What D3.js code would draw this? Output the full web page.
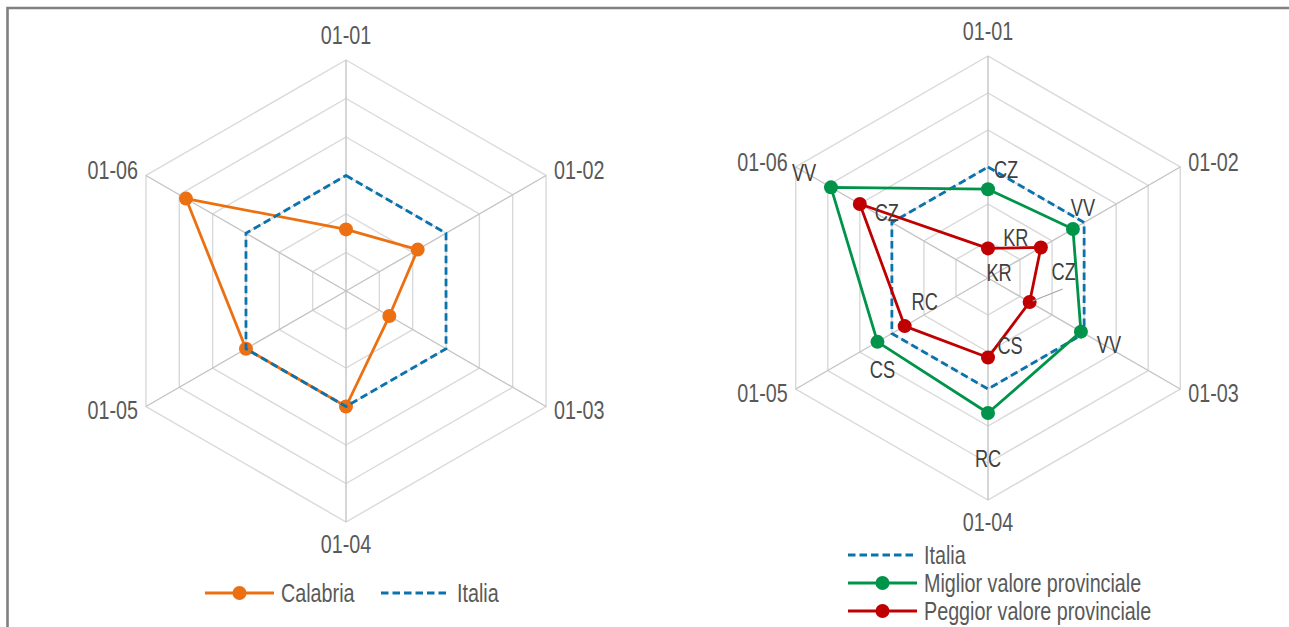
<!DOCTYPE html>
<html><head><meta charset="utf-8">
<script src="https://cdn.jsdelivr.net/npm/d3@7"></script>
<style>
html,body{margin:0;padding:0;background:#fff;}
svg{display:block;font-family:"Liberation Sans Narrow","Arial Narrow","Liberation Sans",Arial,sans-serif;}
</style></head>
<body>
<svg id="c" width="1289" height="627"></svg>
<script>
// ---- data ----
const categories = ["01-01","01-02","01-03","01-04","01-05","01-06"];
const gridTicks = [60, 80, 100, 120, 140, 160];
const calabria = [72, 83, 66, 100, 100, 136];
const italia = [100, 100, 100, 100, 100, 100];
const miglior = [88, 93, 98, 113, 109, 138];
const peggior = [56, 73, 66, 83, 92, 120];
const migliorLabels = ["CZ","VV","VV","RC","CS","VV"];
const peggiorLabels = ["KR","KR","CZ","CS","RC","CZ"];

// ---- style / layout ----
const C_OR = "#ec7011", C_BL = "#0a72ad", C_GR = "#00944a", C_RD = "#c00000";
const TXT = "#595959";
const migliorOff = [[18,-19],[10,-21],[28,13],[0,46],[5,28],[-27,-14]];
const peggiorOff = [[11,25],[-25,-10],[34,-30],[22,-12],[20,-24],[27,9]];
const SX = 0.79; // horizontal condensing (narrow face)

const svg = d3.select("#c");
svg.append("path").attr("d","M7.5,627 L7.5,8 L1289,8").attr("fill","none")
  .attr("stroke","#808080").attr("stroke-width",2.6);

function txt(parent, x, y, s, size, anchor, fill, dy){
  return parent.append("text")
    .attr("transform",`translate(${x},${y}) scale(${SX},1)`)
    .attr("dy", dy).attr("text-anchor",anchor).attr("fill",fill)
    .attr("font-size",size).text(s);
}

const N = categories.length;
const ang = i => i * 2 * Math.PI / N;
function pt(r, i){ const a = ang(i) - Math.PI/2; return [r*Math.cos(a), r*Math.sin(a)]; }

function radar(cx, cy, R){
  const g = svg.append("g").attr("transform",`translate(${cx},${cy})`);
  const r = d3.scaleLinear().domain([40,160]).range([0,R]);
  const ring = d3.lineRadial().angle((d,i)=>ang(i)).radius(d=>r(d)).curve(d3.curveLinearClosed);
  gridTicks.forEach(t=>{
    g.append("path").attr("d", ring(categories.map(()=>t)))
      .attr("fill","none").attr("stroke","#d9d9d9").attr("stroke-width",1.4);
  });
  categories.forEach((c,i)=>{
    const p = pt(r(160), i);
    g.append("line").attr("x1",0).attr("y1",0).attr("x2",p[0]).attr("y2",p[1])
      .attr("stroke","#c4c4c4").attr("stroke-width",1.4);
  });
  categories.forEach((c,i)=>{
    const p = pt(r(160), i);
    let x=p[0], y=p[1], anchor="middle", dy;
    if (i===0){ y -= 16; dy = "0"; }
    else if (i===3){ y += 31; dy = "0"; }
    else {
      anchor = (i<3) ? "start" : "end";
      x += (i<3) ? 8 : -8;
      y += (i===1||i===5) ? -5 : 4;
      dy = "0.35em";
    }
    txt(g, x, y, c, 25, anchor, TXT, dy);
  });
  return {g, r, line: ring};
}

function series(ch, vals, color, opts){
  const path = ch.g.append("path").attr("d", ch.line(vals)).attr("fill","none")
    .attr("stroke",color).attr("stroke-width",2.8).attr("stroke-linejoin","round");
  if (opts.dash) path.attr("stroke-dasharray", "7.5,4");
  if (opts.marker){
    vals.forEach((v,i)=>{
      const p = pt(ch.r(v), i);
      ch.g.append("circle").attr("cx",p[0]).attr("cy",p[1]).attr("r",7).attr("fill",color);
    });
  }
}

function labels(ch, vals, labs, offs){
  vals.forEach((v,i)=>{
    const p = pt(ch.r(v), i);
    txt(ch.g, p[0]+offs[i][0], p[1]+offs[i][1], labs[i], 23, "middle", "#404040", "0.35em");
  });
}

function legendItem(x, y, color, label, dash, marker){
  svg.append("line").attr("x1",x).attr("x2",x+69).attr("y1",y).attr("y2",y)
    .attr("stroke",color).attr("stroke-width",2.8).attr("stroke-dasharray", dash ? "7.5,4" : null);
  if (marker) svg.append("circle").attr("cx",x+34.5).attr("cy",y).attr("r",7).attr("fill",color);
  txt(svg, x+76, y, label, 25, "start", TXT, "0.35em");
}

// left chart
const L = radar(346, 291, 231);
series(L, calabria, C_OR, {marker:true});
series(L, italia, C_BL, {dash:true});
legendItem(205, 593, C_OR, "Calabria", false, true);
legendItem(381, 593, C_BL, "Italia", true, false);

// right chart
const Rc = radar(988, 278, 222);
series(Rc, italia, C_BL, {dash:true});
series(Rc, miglior, C_GR, {marker:true});
series(Rc, peggior, C_RD, {marker:true});
labels(Rc, miglior, migliorLabels, migliorOff);
labels(Rc, peggior, peggiorLabels, peggiorOff);
{
  const p = pt(Rc.r(peggior[2]), 2);
  Rc.g.append("line").attr("x1",p[0]+3).attr("y1",p[1]-1)
    .attr("x2",p[0]+peggiorOff[2][0]-1).attr("y2",p[1]+peggiorOff[2][1]+17)
    .attr("stroke","#a6a6a6").attr("stroke-width",1.2);
}
legendItem(848, 555, C_BL, "Italia", true, false);
legendItem(848, 583, C_GR, "Miglior valore provinciale", false, true);
legendItem(848, 611, C_RD, "Peggior valore provinciale", false, true);
</script>
</body></html>
